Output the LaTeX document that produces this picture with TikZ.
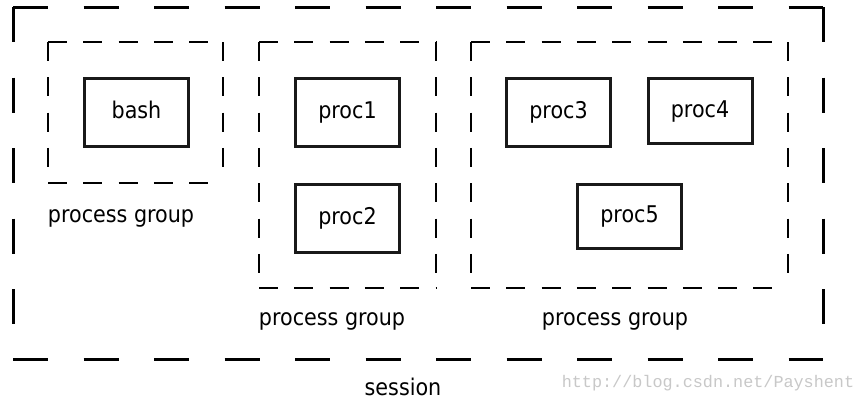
\documentclass[tikz,border=0pt]{standalone}
\usepackage{fontspec}
\setmainfont{DejaVu Sans Condensed}
\newfontfamily\wmfont{Liberation Mono}
\definecolor{wmgray}{RGB}{200,200,200}
\newcommand\mydashrect[3]{%
  \draw[#3] (#1) -- (#1 -| #2);
  \draw[#3] (#1) -- (#1 |- #2);
  \draw[#3] (#1 -| #2) -- (#2);
  \draw[#3] (#1 |- #2) -- (#2);
}
\begin{document}
\begin{tikzpicture}[x=1bp,y=-1bp,
  sessline/.style={line width=3bp,dash pattern=on 35.25bp off 35.25bp},
  grpline/.style={line width=2bp,dash pattern=on 19bp off 16.3bp},
  txt/.style={font=\fontsize{23bp}{26bp}\selectfont,inner sep=0pt},
  procbox/.style={txt,draw=black!90,line width=3bp,minimum width=104bp,minimum height=68bp,text height=16.5bp,text depth=4.5bp},
  lbl/.style={txt,anchor=base},
]
\useasboundingbox[fill=white] (0,0) rectangle (863,401);
% session
\coordinate (snw) at (13,7);
\coordinate (sse) at (823,359);
\mydashrect{snw}{sse}{sessline}
% process groups
\coordinate (g1nw) at (48,42);
\coordinate (g1se) at (223,183);
\mydashrect{g1nw}{g1se}{grpline}
\coordinate (g2nw) at (259,42);
\coordinate (g2se) at (436,288);
\mydashrect{g2nw}{g2se}{grpline}
\coordinate (g3nw) at (471,42);
\coordinate (g3se) at (788,288);
\mydashrect{g3nw}{g3se}{grpline}
% processes
\node[procbox] (bash) at (136.5,112.5) {bash};
\node[procbox] (proc1) at (347.5,112.5) {proc1};
\node[procbox] (proc2) at (347.5,218.5) {proc2};
\node[procbox] (proc3) at (558.5,112.5) {proc3};
\node[procbox,minimum height=65bp] (proc4) at (700,111) {proc4};
\node[procbox,minimum height=64bp] (proc5) at (629.5,216.5) {proc5};
% labels
\node[lbl] (lab1) at (121,222) {process group};
\node[lbl] (lab2) at (332,325) {process group};
\node[lbl] (lab3) at (615,325) {process group};
\node[lbl] (lab4) at (403,395) {session};
\node[inner sep=0pt,anchor=base,text=wmgray,font=\wmfont\fontsize{16.8bp}{18bp}\selectfont] (wm) at (708,387) {http://blog.csdn.net/Payshent};
\end{tikzpicture}
\end{document}
